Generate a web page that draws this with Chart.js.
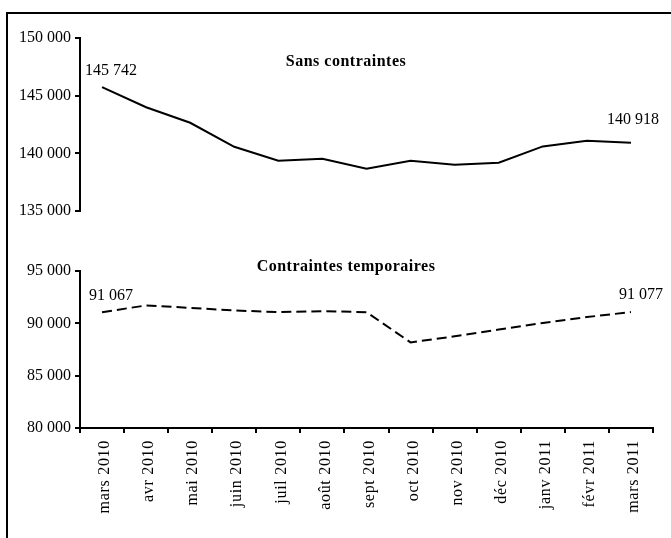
<!DOCTYPE html>
<html><head><meta charset="utf-8">
<script src="https://cdn.jsdelivr.net/npm/chart.js@4"></script>
<style>
html,body{margin:0;padding:0;background:#fff;width:671px;height:538px;overflow:hidden;position:relative}
#frame{position:absolute;left:6px;top:12px;width:700px;height:600px;border-left:2px solid #000;border-top:2px solid #000}
#c1{position:absolute;left:0;top:0}
#c2{position:absolute;left:0;top:230px}
</style></head><body>
<div id="frame"></div>
<canvas id="c1" width="671" height="230"></canvas>
<canvas id="c2" width="671" height="308"></canvas>
<script>
const months = ['mars 2010','avr 2010','mai 2010','juin 2010','juil 2010','août 2010','sept 2010','oct 2010','nov 2010','déc 2010','janv 2011','févr 2011','mars 2011'];
const sansContraintes = [145742, 144000, 142650, 140570, 139360, 139530, 138660, 139360, 139010, 139180, 140600, 141090, 140918];
const contraintesTemporaires = [91067, 91711, 91480, 91230, 91067, 91163, 91067, 88180, 88760, 89400, 90030, 90600, 91077];
const topTicks = [135000, 140000, 145000, 150000];
const bottomTicks = [80000, 85000, 90000, 95000];
const titles = ['Sans contraintes', 'Contraintes temporaires'];

const SERIF = "'Liberation Serif', 'Times New Roman', serif";
const fmt = v => String(Math.round(v)).replace(/\B(?=(\d{3})+(?!\d))/g, ' ');

const annot = {
  id: 'annot',
  afterDatasetsDraw(chart, args, opts) {
    const ctx = chart.ctx;
    const meta = chart.getDatasetMeta(0);
    const data = chart.data.datasets[0].data;
    const ca = chart.chartArea;
    ctx.save();
    ctx.fillStyle = '#000';
    ctx.textAlign = 'center';
    ctx.textBaseline = 'alphabetic';
    ctx.font = 'bold 16px ' + SERIF;
    ctx.letterSpacing = '0.5px';
    ctx.fillText(opts.title, ca.left + opts.titleX, ca.top + opts.titleY);
    ctx.font = '16px ' + SERIF;
    ctx.letterSpacing = '0px';
    opts.labels.forEach(l => {
      const p = meta.data[l.i];
      ctx.fillText(fmt(data[l.i]), p.x + l.dx, p.y + l.dy);
    });
    ctx.restore();
  }
};

// widen the letter spacing of the rotated month labels (x tick labels drawn after datasets, ticks.z:1)
const spacing = {
  id: 'spacing',
  afterDatasetsDraw(chart) { chart.ctx.letterSpacing = '0.7px'; },
  afterDraw(chart) { chart.ctx.letterSpacing = '0px'; }
};

function yScale(min, max, tickVals) {
  return {
    min, max,
    afterBuildTicks: s => { s.ticks = tickVals.map(v => ({ value: v })); },
    afterFit: s => { s.width = 80; },
    ticks: { callback: v => fmt(v), color: '#000', font: { family: SERIF, size: 16 }, padding: 4 },
    grid: { drawOnChartArea: false, drawTicks: true, tickLength: 5, color: '#000', lineWidth: 2 },
    border: { display: true, color: '#000', width: 2 }
  };
}

new Chart(document.getElementById('c1'), {
  type: 'line',
  data: { labels: months, datasets: [{ data: sansContraintes, borderColor: '#000', borderWidth: 2, pointRadius: 0, tension: 0, fill: false }] },
  options: {
    responsive: false, animation: false, devicePixelRatio: 1,
    layout: { padding: { left: 0, right: 18, top: 38, bottom: 19 } },
    plugins: {
      legend: { display: false }, tooltip: { enabled: false },
      annot: { title: titles[0], titleX: 266, titleY: 28, labels: [{ i: 0, dx: 9, dy: -12 }, { i: 12, dx: 2, dy: -19 }] }
    },
    scales: {
      x: { display: false, offset: true },
      y: yScale(135000, 150000, topTicks)
    }
  },
  plugins: [annot]
});

new Chart(document.getElementById('c2'), {
  type: 'line',
  data: { labels: months, datasets: [{ data: contraintesTemporaires, borderColor: '#000', borderWidth: 2, borderDash: [10, 5], pointRadius: 0, tension: 0, fill: false }] },
  options: {
    responsive: false, animation: false, devicePixelRatio: 1,
    layout: { padding: { left: 0, right: 18, top: 41, bottom: 0 } },
    plugins: {
      legend: { display: false }, tooltip: { enabled: false },
      annot: { title: titles[1], titleX: 266, titleY: 0, labels: [{ i: 0, dx: 9, dy: -12 }, { i: 12, dx: 10, dy: -13 }] }
    },
    scales: {
      x: {
        offset: true,
        afterFit: s => { s.height = 110; },
        ticks: { z: 1, autoSkip: false, minRotation: 90, maxRotation: 90, color: '#000', font: { family: SERIF, size: 16 }, padding: 7, labelOffset: 3 },
        grid: { offset: true, drawOnChartArea: false, drawTicks: true, tickLength: 5, color: '#000', lineWidth: 2 },
        border: { display: true, color: '#000', width: 2 }
      },
      y: yScale(80000, 95000, bottomTicks)
    }
  },
  plugins: [annot, spacing]
});
</script>
</body></html>
